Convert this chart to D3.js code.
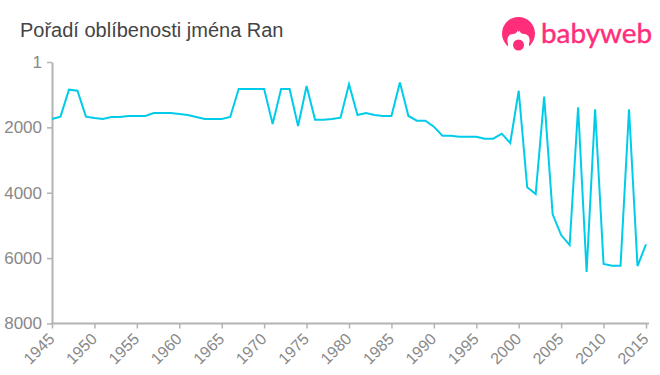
<!DOCTYPE html>
<html>
<head>
<meta charset="utf-8">
<script src="https://cdn.jsdelivr.net/npm/d3@7"></script>
<style>
    html, body { margin: 0; padding: 0; background: #fff; }
    text { font-family: "Liberation Sans", Arial, sans-serif; }
</style>
</head>
<body>
<svg id="chart" width="660" height="375"></svg>
<script>
const years = [
    1945, 1946, 1947, 1948, 1949, 1950, 1951, 1952, 1953, 1954,
    1955, 1956, 1957, 1958, 1959, 1960, 1961, 1962, 1963, 1964,
    1965, 1966, 1967, 1968, 1969, 1970, 1971, 1972, 1973, 1974,
    1975, 1976, 1977, 1978, 1979, 1980, 1981, 1982, 1983, 1984,
    1985, 1986, 1987, 1988, 1989, 1990, 1991, 1992, 1993, 1994,
    1995, 1996, 1997, 1998, 1999, 2000, 2001, 2002, 2003, 2004,
    2005, 2006, 2007, 2008, 2009, 2010, 2011, 2012, 2013, 2014,
    2015
];
const ranks = [
    1744, 1673, 847, 877, 1673, 1713, 1744, 1683, 1683, 1652,
    1652, 1652, 1560, 1560, 1560, 1591, 1622, 1683, 1744, 1744,
    1744, 1683, 826, 826, 826, 826, 1897, 826, 826, 1958,
    734, 1765, 1765, 1744, 1704, 680, 1622, 1560, 1622, 1652,
    1652, 630, 1652, 1796, 1796, 1979, 2255, 2255, 2285, 2285,
    2285, 2346, 2346, 2193, 2479, 880, 3834, 4040, 1062, 4660,
    5294, 5600, 1386, 6426, 1447, 6181, 6233, 6233, 1447, 6242,
    5578
];
const xTicks = [1945, 1950, 1955, 1960, 1965, 1970, 1975, 1980, 1985, 1990, 1995, 2000, 2005, 2010, 2015];
const yTicks = [1, 2000, 4000, 6000, 8000];

const svg = d3.select("#chart");

const x = d3.scaleLinear().domain([1945, 2015]).range([52, 646]);
const y = d3.scaleLinear().domain([1, 8000]).range([62, 323.5]);

svg.append("text")
    .attr("x", 20)
    .attr("y", 37)
    .attr("font-size", 20)
    .attr("fill", "#444")
    .text("Pořadí oblíbenosti jména Ran");

// Axes
const xAxis = svg.append("g")
    .attr("transform", `translate(0, ${y(8000)})`)
    .call(d3.axisBottom(x).tickValues(xTicks).tickFormat(d3.format("d")).tickSize(5).tickSizeOuter(0));
xAxis.select(".domain").attr("d", "M51,0H649");
xAxis.selectAll("text")
    .attr("font-size", 16)
    .attr("fill", "#888")
    .attr("text-anchor", "end")
    .attr("dx", 0)
    .attr("dy", 0)
    .attr("transform", "translate(3, 16.5) rotate(-45)")
    .attr("y", 0)
    .attr("x", 0);

const yAxis = svg.append("g")
    .attr("transform", `translate(${x(1945)}, 0)`)
    .call(d3.axisLeft(y).tickValues(yTicks).tickFormat(d3.format("d")).tickSize(5).tickSizeOuter(0));
yAxis.selectAll("text")
    .attr("font-size", 17)
    .attr("fill", "#888")
    .attr("x", -10);

svg.selectAll(".domain, .tick line")
    .attr("stroke", "#b3b3b3");
svg.selectAll(".domain").attr("stroke-width", 2);
svg.selectAll(".tick line").attr("stroke-width", 1.5);

// Line
const line = d3.line()
    .x((d, i) => x(years[i]))
    .y(d => y(d));

svg.append("path")
    .datum(ranks)
    .attr("fill", "none")
    .attr("stroke", "#00ccea")
    .attr("stroke-width", 2)
    .attr("d", line);

// Logo
const logo = svg.append("g").attr("fill", "#ff2d7a");
logo.append("circle").attr("cx", 518.5).attr("cy", 33.5).attr("r", 16.5);
logo.append("path")
    .attr("fill", "#fff")
    .attr("d", "M508 52 L508 44 C506 38 509 34 513 34 C515 34 517 33 517.5 30.5 C518 32 519 32 519.5 30.5 C520 33 522 34 524 34 C528 34 531 38 529 44 L529 52 Z");
logo.append("circle").attr("cx", 518.5).attr("cy", 45).attr("r", 5.5);
logo.append("text")
    .attr("x", 541)
    .attr("y", 43)
    .attr("font-size", 26)
    .attr("textLength", 111)
    .attr("lengthAdjust", "spacingAndGlyphs")
    .attr("stroke", "#ff2d7a")
    .attr("stroke-width", 0.4)
    .style("font-family", "Lato, sans-serif")
    .text("babyweb");
</script>
</body>
</html>
